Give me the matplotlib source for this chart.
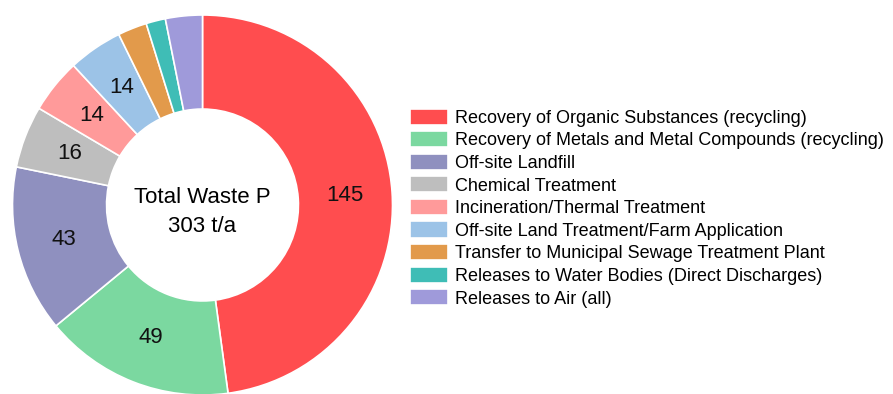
import numpy as np
import matplotlib.pyplot as plt

plt.rcParams['font.family'] = ['Liberation Sans', 'DejaVu Sans']

# Waste P flows, t/a
categories = [
    "Recovery of Organic Substances (recycling)",
    "Recovery of Metals and Metal Compounds (recycling)",
    "Off-site Landfill",
    "Chemical Treatment",
    "Incineration/Thermal Treatment",
    "Off-site Land Treatment/Farm Application",
    "Transfer to Municipal Sewage Treatment Plant",
    "Releases to Water Bodies (Direct Discharges)",
    "Releases to Air (all)",
]
values = [145, 49, 43, 16, 14, 14, 7.5, 5, 9.5]
colors = ["#FF4D4F", "#7BD8A0", "#8F90BF", "#BEBEBE", "#FF9A9A",
          "#9CC3E7", "#E29A4B", "#3FBDB6", "#9F9ADA"]
total = 303

fig = plt.figure(figsize=(8.93, 3.94), dpi=100)
ax = fig.add_axes([12.5 / 893, -1 / 394, 380 / 893, 380 / 394])

wedges = ax.pie(values, colors=colors, startangle=90, counterclock=False,
                wedgeprops=dict(width=0.495, edgecolor="white", linewidth=1.2))[0]

# value labels in the middle of the ring (small slices left unlabelled)
for w, v in zip(wedges, values):
    if v / sum(values) * 100 <= 4:
        continue
    ang = np.deg2rad((w.theta1 + w.theta2) / 2)
    ax.text(0.75 * np.cos(ang), 0.75 * np.sin(ang), f"{v:.0f}",
            ha="center", va="center", fontsize=16, color="#111111")

ax.text(0, 0.04, "Total Waste P", ha="center", va="center", fontsize=16)
ax.text(0, -0.115, f"{total} t/a", ha="center", va="center", fontsize=16)
ax.set_xlim(-1, 1)
ax.set_ylim(-1, 1)
ax.set_aspect("equal")

fig.legend(wedges, categories, loc="upper left", bbox_to_anchor=(410 / 893, 1 - 108.5 / 394),
           frameon=False, fontsize=13, handlelength=2.1, handleheight=1.0,
           handletextpad=0.4, labelspacing=0.24, borderaxespad=0, borderpad=0)

fig.savefig("out.png", dpi=100)
